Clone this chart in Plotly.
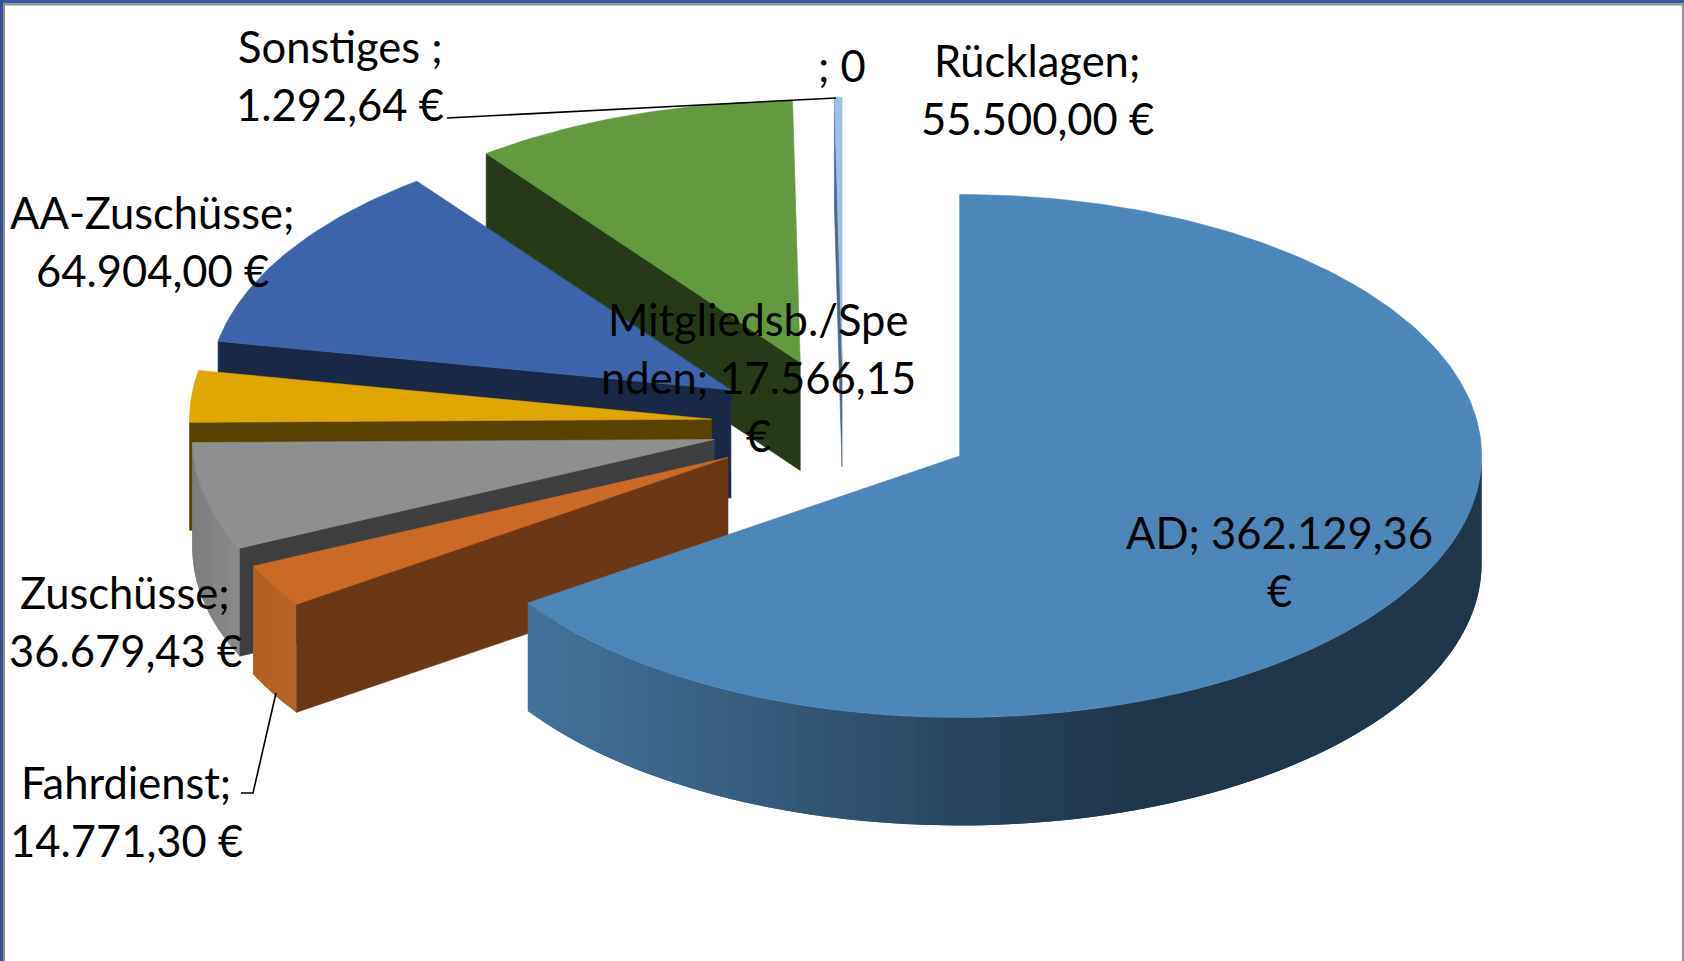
import math
import plotly.graph_objects as go

# ---- data (clockwise from 12 o'clock) ----
CATEGORIES = ["AD", "Fahrdienst", "Zuschüsse", "Mitgliedsb./Spenden", "AA-Zuschüsse", "Rücklagen", "Sonstiges", ""]
VALUES = [362129.36, 14771.30, 36679.43, 17566.15, 64904.00, 55500.00, 1292.64, 0]
TOP_COLORS = ["#4d87ba", "#cb6a27", "#8f8f8f", "#dfa700", "#3d64ab", "#63993f", "#9dc0e6", "#9dc0e6"]
RADIAL_COLORS = ["#1f364b", "#6b3715", "#3f3f3f", "#5a4300", "#182846", "#273a18", "#4a6785", "#4a6785"]
WALL_LEFT = ["#44729b", "#b05f22", "#7d7d7d", "#a07c10", "#182846", "#273a18", "#4a6785", "#4a6785"]
WALL_RIGHT = ["#1f364b", "#b8642a", "#8a8a8a", "#a07c10", "#182846", "#273a18", "#4a6785", "#4a6785"]

LABEL_LINES = [
    ("Sonstiges ;", 340, 45.5), ("1.292,64 €", 340, 103.5),
    ("; 0", 842, 64.5),
    ("Rücklagen;", 1037, 59.5), ("55.500,00 €", 1037, 117.5),
    ("AA-Zuschüsse;", 152, 211.5), ("64.904,00 €", 152, 269.5),
    ("Mitgliedsb./Spe", 758, 318.5), ("nden; 17.566,15", 758, 376.5), ("€", 758, 434.5),
    ("AD; 362.129,36", 1279, 531.5), ("€", 1279, 589.5),
    ("Zuschüsse;", 125, 591.5), ("36.679,43 €", 125, 649.5),
    ("Fahrdienst;", 126, 781.5), ("14.771,30 €", 126, 839.5),
]

# ---- projection of the exploded pie onto the page (pixels) ----
CX, CY = 843.0, 425.0
RX, RY = 522.0, 261.5
EXPLODE = 132.0
DEPTH = 108.0
WALL_END_X = 1125.0


def hex_rgb(c):
    return tuple(int(c[i:i + 2], 16) for i in (1, 3, 5))


def mix(a, b, t):
    ra, rb = hex_rgb(a), hex_rgb(b)
    t = max(0.0, min(1.0, t))
    return "#%02x%02x%02x" % tuple(round(x + (y - x) * t) for x, y in zip(ra, rb))


def poly(fig, xs, ys, color, name, width=0.6):
    fig.add_trace(go.Scatter(
        x=list(xs) + [xs[0]], y=list(ys) + [ys[0]], mode="lines", fill="toself",
        fillcolor=color, line=dict(color=color, width=width), hoverinfo="text", text=name,
        showlegend=False))


def arc(ax, ay, a0, a1, n):
    pts = [a0 + (a1 - a0) * i / n for i in range(n + 1)]
    return ([ax + RX * math.sin(p) for p in pts], [ay - RY * math.cos(p) for p in pts])


fig = go.Figure()
total = sum(VALUES)
spans = []
acc = 0.0
for v in VALUES:
    a0 = acc / total * 2 * math.pi
    acc += v
    spans.append((a0, acc / total * 2 * math.pi))

# painter's order: the back slices first, the largest front slice last
for i in range(len(VALUES) - 1, -1, -1):
    if VALUES[i] <= 0:
        continue
    a0, a1 = spans[i]
    mid = (a0 + a1) / 2
    ax = CX + EXPLODE * math.sin(mid)
    ay = CY - EXPLODE * math.cos(mid) * RY / RX
    label = f"{CATEGORIES[i]}: {VALUES[i]:,.2f} €"

    # visible radial wall (only the slices on the left half show their first edge)
    if math.pi < a0 < 2 * math.pi:
        ex, ey = ax + RX * math.sin(a0), ay - RY * math.cos(a0)
        poly(fig, [ax, ex, ex, ax], [ay, ey, ey + DEPTH, ay + DEPTH], RADIAL_COLORS[i], label)

    # visible outer wall: the front half of the rim, shaded in overlapping strips
    w0, w1 = max(a0, math.pi / 2), min(a1, 3 * math.pi / 2)
    if w1 > w0:
        n = max(2, int((w1 - w0) / math.radians(1.5)))
        xs, ys = arc(ax, ay, w0, w1, n)
        x_lo = min(xs)
        x_hi = WALL_END_X if i == 0 else max(xs)
        for k in range(n):
            xm = (xs[k] + xs[k + 1]) / 2
            t = (xm - x_lo) / max(x_hi - x_lo, 1.0)
            c = mix(WALL_LEFT[i], WALL_RIGHT[i], t)
            e = min(k + 2, n)
            sx = xs[k:e + 1]
            sy = ys[k:e + 1]
            poly(fig, sx + sx[::-1], sy + [y + DEPTH for y in sy[::-1]], c, label, width=0)

    # top face
    n = max(2, int((a1 - a0) / math.radians(1.0)))
    xs, ys = arc(ax, ay, a0, a1, n)
    poly(fig, [ax] + xs, [ay] + ys, TOP_COLORS[i], label)

# leader lines
LEADERS = [([447, 836], [118, 98]), ([241, 253, 276], [793, 793, 693])]
for lx, ly in LEADERS:
    fig.add_trace(go.Scatter(x=lx, y=ly, mode="lines", line=dict(color="#000000", width=1.6),
                             hoverinfo="skip", showlegend=False))

annotations = [
    dict(x=x, y=y, text=t, showarrow=False, xanchor="center", yanchor="middle",
         font=dict(family="Lato, Carlito, sans-serif", size=43.5, color="#000000"))
    for t, x, y in LABEL_LINES
]

# slide frame
shapes = [
    dict(type="rect", x0=0, x1=1684, y0=0, y1=3.5, fillcolor="#3a5a9e", line_width=0, layer="above"),
    dict(type="rect", x0=0, x1=1684, y0=3.5, y1=5.5, fillcolor="#909090", line_width=0, layer="above"),
    dict(type="rect", x0=0, x1=3, y0=0, y1=961, fillcolor="#33508f", line_width=0, layer="above"),
    dict(type="rect", x0=3, x1=5, y0=5, y1=961, fillcolor="#909090", line_width=0, layer="above"),
    dict(type="rect", x0=1682, x1=1684, y0=3, y1=961, fillcolor="#909090", line_width=0, layer="above"),
]

fig.update_layout(
    width=1684, height=961, margin=dict(l=0, r=0, t=0, b=0),
    paper_bgcolor="#ffffff", plot_bgcolor="#ffffff",
    xaxis=dict(range=[0, 1684], visible=False, fixedrange=True),
    yaxis=dict(range=[961, 0], visible=False, fixedrange=True),
    annotations=annotations, shapes=shapes, showlegend=False,
)
fig.write_html("out.html", config={"displayModeBar": False},
               post_script="document.body.style.margin='0';document.body.style.overflow='hidden';")
